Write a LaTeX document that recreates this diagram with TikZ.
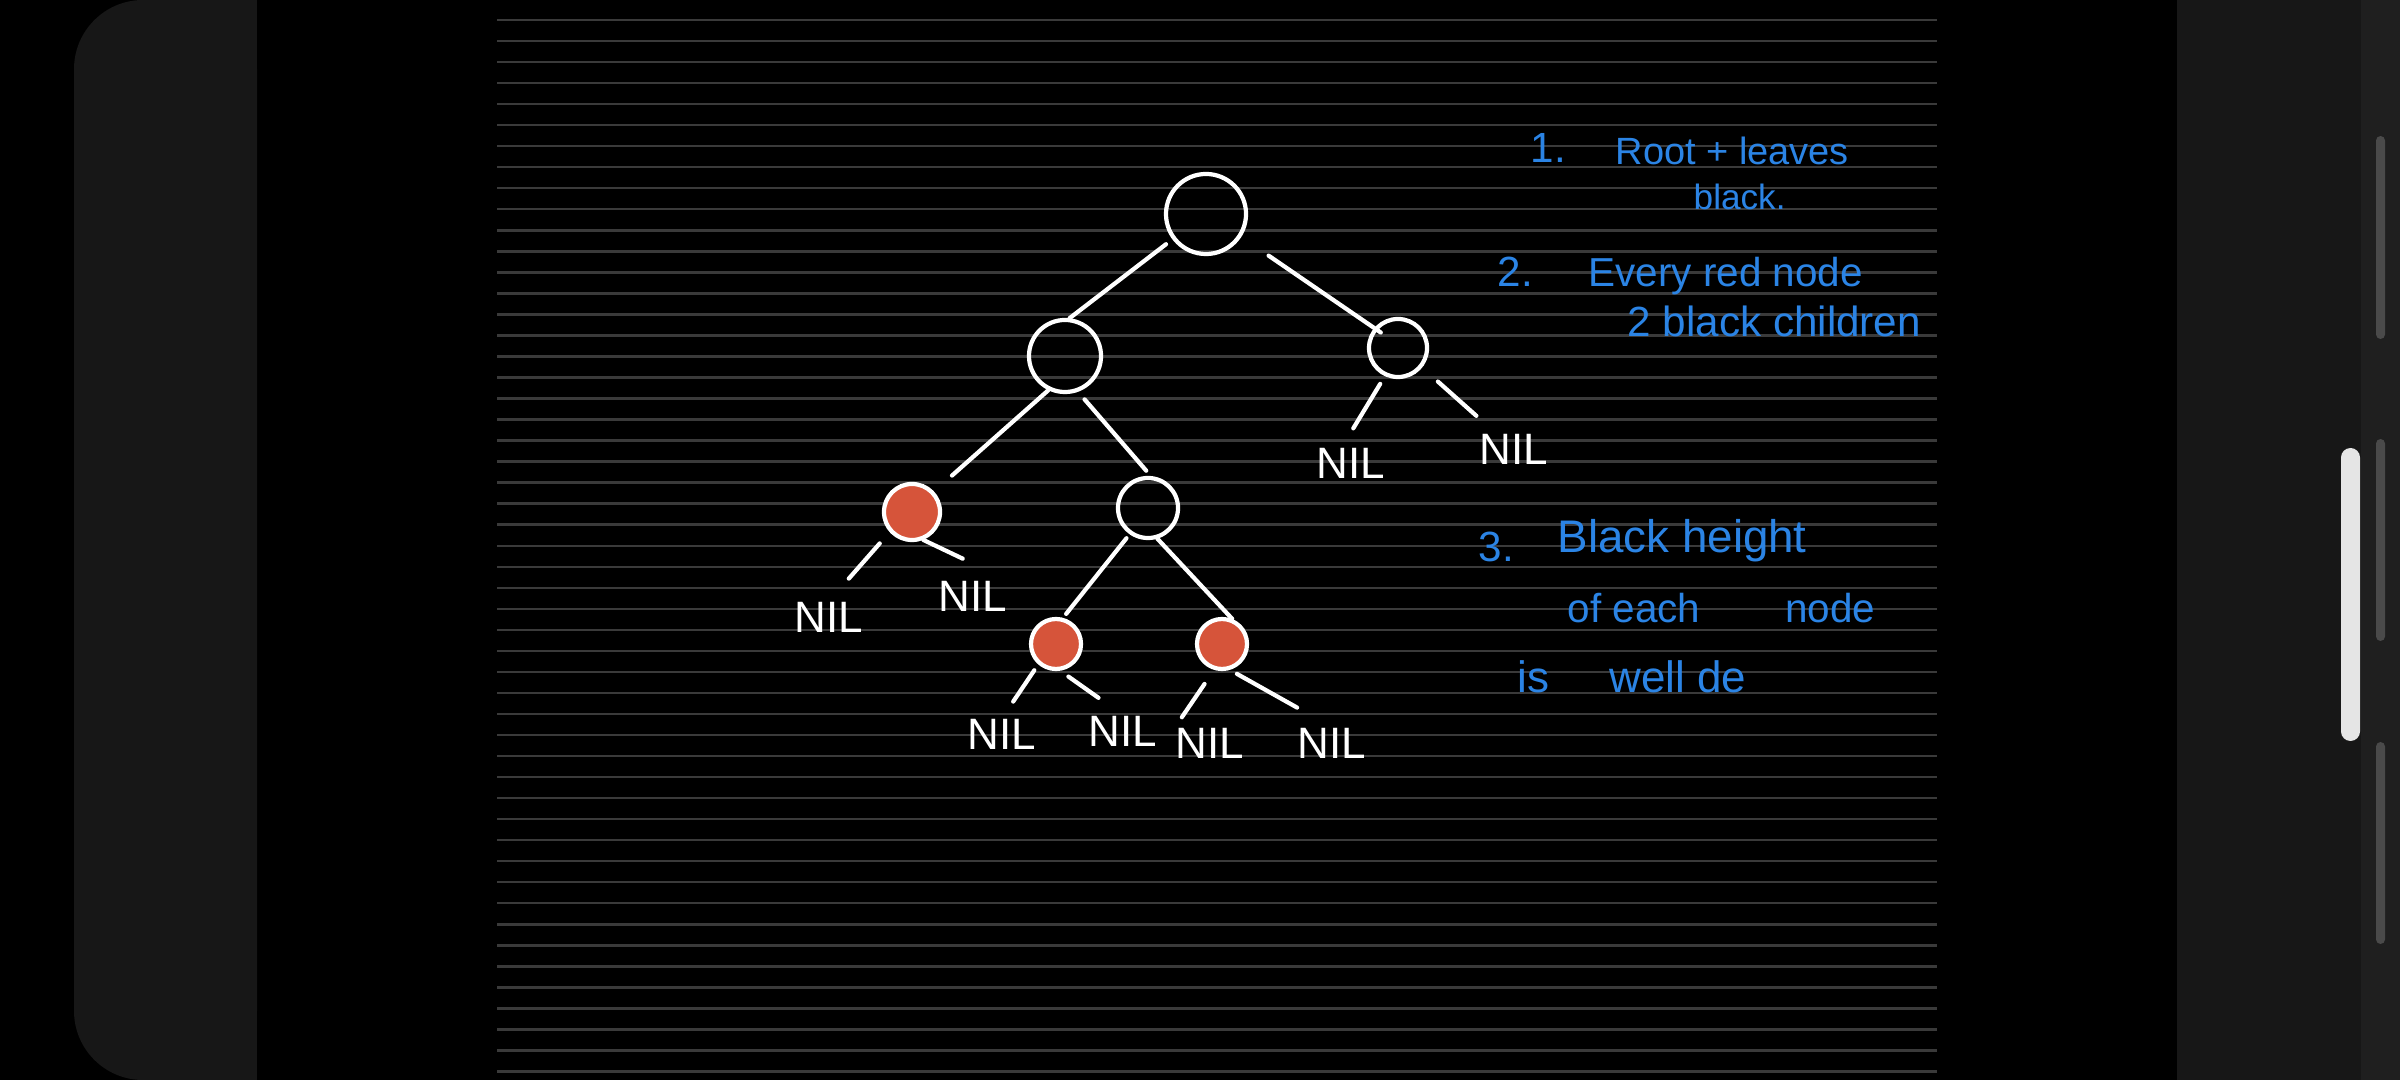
\documentclass[tikz,border=0pt]{standalone}
\usepackage{fontspec}
\setmainfont{Liberation Sans}
\usepackage{tikz}
\usetikzlibrary{positioning}

\definecolor{sidepanel}{RGB}{23,23,23}
\definecolor{railgrey}{RGB}{31,31,31}
\definecolor{thumbgrey}{RGB}{74,74,74}
\definecolor{ruleline}{RGB}{58,58,58}
\definecolor{hatchred}{RGB}{214,84,58}
\definecolor{penblue}{RGB}{43,132,229}

\begin{document}
\begin{tikzpicture}[
  x=0.01cm, y=-0.01cm,
  ruling/.style={draw=ruleline, line width=0.7pt},
  treenode/.style={draw=white, circle, line width=1.2pt, inner sep=0pt},
  rednode/.style={treenode, fill=hatchred},
  nil/.style={text=white, font=\fontsize{12.5}{15}\selectfont, inner sep=0pt},
  link/.style={draw=white, line width=1.2pt, line cap=round},
  note/.style={text=penblue, anchor=base west, inner sep=0pt, font=\fontsize{12}{14}\selectfont}
]

\useasboundingbox (0,0) rectangle (2400,1080);
\fill[black] (0,0) rectangle (2400,1080);
\fill[sidepanel, rounded corners=0.69cm] (74,0) rectangle (257,1080);
\fill[sidepanel] (180,0) rectangle (257,1080);
\fill[sidepanel] (2177,0) rectangle (2361,1080);
\fill[railgrey] (2361,0) rectangle (2400,1080);
\fill[thumbgrey, rounded corners=0.045cm] (2376,136) rectangle (2385,339);
\fill[thumbgrey, rounded corners=0.045cm] (2376,439) rectangle (2385,641);
\fill[thumbgrey, rounded corners=0.045cm] (2376,742) rectangle (2385,944);
\fill[white!90!black, rounded corners=0.095cm] (2341,448) rectangle (2360,741);
\foreach \k in {0,...,50}
  \draw[ruling] (497,20+21.03*\k) -- (1937,20+21.03*\k);

\node[treenode, minimum size=0.8cm] (root) at (1206,214) {};
\node[treenode, minimum size=0.72cm] (lft) at (1065,356) {};
\node[treenode, minimum size=0.58cm] (rgt) at (1398,348) {};
\node[rednode, minimum size=0.56cm] (lred) at (912,512) {};
\node[treenode, minimum size=0.6cm] (mid) at (1148,508) {};
\node[rednode, minimum size=0.5cm] (mred) at (1056,644) {};
\node[rednode, minimum size=0.5cm] (rred) at (1222,644) {};

\node[nil] (nilA) at (1351,463) {NIL};
\node[nil] (nilB) at (1514,449) {NIL};
\node[nil] (nilC) at (829,617) {NIL};
\node[nil] (nilD) at (973,596) {NIL};
\node[nil] (nilE) at (1002,734) {NIL};
\node[nil] (nilF) at (1123,731) {NIL};
\node[nil] (nilG) at (1210,743) {NIL};
\node[nil] (nilH) at (1332,743) {NIL};

\draw[link, shorten <=0.08cm] (root.217) -- (lft.83);
\draw[link, shorten <=0.33cm, shorten >=-0.08cm] (root.327) -- (rgt.140);
\draw[link, shorten >=0.24cm] (lft.244) -- (lred.43);
\draw[link, shorten <=0.1cm, shorten >=0.07cm] (lft.290) -- (mid.85);
\draw[link, shorten <=0.05cm, shorten >=0.05cm] (mid.235) -- (mred.75);
\draw[link] (mid.287) -- (rred.68);
\draw[link, shorten <=0.09cm, shorten >=0.22cm] (rgt.245) -- (nilA.120);
\draw[link, shorten <=0.21cm, shorten >=0.26cm] (rgt.321) -- (nilB.139);
\draw[link, shorten <=0.15cm, shorten >=0.3cm] (lred.222) -- (nilC.north);
\draw[link, shorten >=0.5cm] (lred.292) -- (nilD.north east);
\draw[link, shorten <=0.07cm, shorten >=0.2cm] (mred.229) -- (nilE.north);
\draw[link, shorten <=0.1cm, shorten >=0.3cm] (mred.279) -- (nilF.north);
\draw[link, shorten <=0.17cm, shorten >=0.12cm] (rred.253) -- (nilG.north west);
\draw[link, shorten <=0.08cm, shorten >=0.4cm] (rred.287) -- (nilH.north);

\node[note] (num1) at (1530,163) {1.};
\node[note, font=\fontsize{10.8}{13}\selectfont] (rule1a) at (1615,165) {Root + leaves};
\node[note, font=\fontsize{10}{12}\selectfont] (rule1b) at (1693,210) {black.};
\node[note] (num2) at (1497,287) {2.};
\node[note, font=\fontsize{11.5}{14}\selectfont] (rule2a) at (1588,287) {Every red node};
\node[note] (rule2b) at (1627,337) {2 black children};
\node[note] (num3) at (1478,562) {3.};
\node[note, font=\fontsize{13}{15}\selectfont] (rule3a) at (1557,553) {Black height};
\node[note, font=\fontsize{11.5}{14}\selectfont] (rule3b) at (1567,623) {of each\hspace{0.85cm}node};
\node[note, font=\fontsize{12.5}{15}\selectfont] (rule3c) at (1517,693) {is\hspace{0.6cm}well de};

\end{tikzpicture}
\end{document}
